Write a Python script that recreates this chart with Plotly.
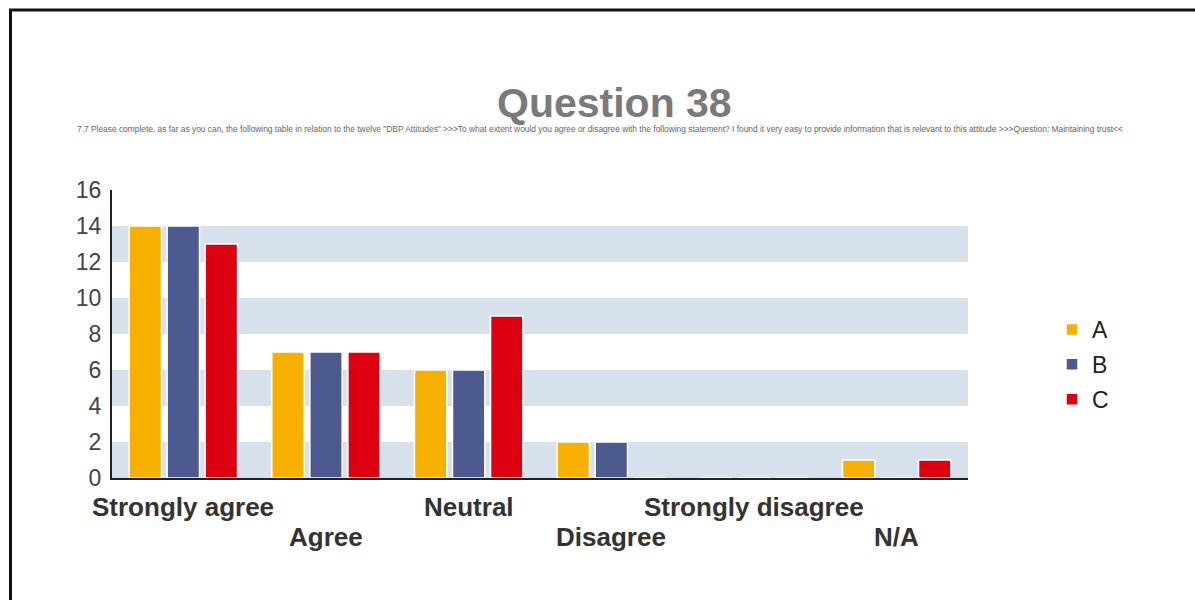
import plotly.graph_objects as go

# Survey responses per answer option, for three respondent groups
categories = ["Strongly agree", "Agree", "Neutral", "Disagree", "Strongly disagree", "N/A"]
series_names = ["A", "B", "C"]
values_a = [14, 7, 6, 2, 0, 1]
values_b = [14, 7, 6, 2, 0, 0]
values_c = [13, 7, 9, 0, 0, 1]
y_ticks = [0, 2, 4, 6, 8, 10, 12, 14, 16]
band_ranges = [(0, 2), (4, 6), (8, 10), (12, 14)]

title_text = "Question 38"
subtitle_text = ("7.7 Please complete, as far as you can, the following table in relation to the twelve "
                 "\"DBP Attitudes\" >>>To what extent would you agree or disagree with the following statement? "
                 "I found it very easy to provide information that is relevant to this attitude >>>Question: "
                 "Maintaining trust<<")

colors = ["#f7b000", "#4d5a8f", "#dc0011"]
FONT = "Liberation Sans, Arial, sans-serif"

W, H = 1195, 600
L, R, T, B = 112, 227, 190, 122
plot_w = W - L - R
plot_h = H - T - B


def px_x(x):
    return (x - L) / plot_w


def px_y(y):
    return (H - B - y) / plot_h


fig = go.Figure()
for name, vals, col in zip(series_names, [values_a, values_b, values_c], colors):
    fig.add_trace(go.Bar(
        x=categories, y=vals, name=name, legendgroup=name,
        marker=dict(color=col, line=dict(color="white", width=1.5)),
    ))

shapes = []
# Alternating horizontal bands behind the bars
for y0, y1 in band_ranges:
    shapes.append(dict(type="rect", xref="paper", yref="y", x0=0, x1=1, y0=y0, y1=y1,
                       fillcolor="#d7e1ec", line=dict(width=0), layer="below"))
# Page frame (top and left edges)
shapes.append(dict(type="line", xref="paper", yref="paper",
                   x0=px_x(9), x1=px_x(W), y0=px_y(10), y1=px_y(10),
                   line=dict(color="#111", width=3)))
shapes.append(dict(type="line", xref="paper", yref="paper",
                   x0=px_x(10.5), x1=px_x(10.5), y0=px_y(9), y1=px_y(H),
                   line=dict(color="#111", width=3)))

annotations = [
    dict(text=f"<b>{title_text}</b>", xref="paper", yref="paper", x=px_x(614), y=px_y(103),
         xanchor="center", yanchor="middle", showarrow=False,
         font=dict(family=FONT, size=41, color="#7a7a7a")),
    dict(text=subtitle_text, xref="paper", yref="paper", x=px_x(600), y=px_y(129),
         xanchor="center", yanchor="middle", showarrow=False,
         font=dict(family=FONT, size=8.4, color="#666")),
]
# Category labels, staggered on two rows
for i, cat in enumerate(categories):
    annotations.append(dict(
        text=f"<b>{cat}</b>", xref="x", yref="y", x=cat, y=0,
        xanchor="center", yanchor="top", showarrow=False,
        yshift=-12 if i % 2 == 0 else -42,
        font=dict(family=FONT, size=26, color="#333"),
    ))

fig.update_layout(
    width=W, height=H,
    margin=dict(l=L, r=R, t=T, b=B, pad=0),
    paper_bgcolor="white", plot_bgcolor="white",
    barmode="group", bargap=0.2, bargroupgap=0.15,
    shapes=shapes, annotations=annotations,
    font=dict(family=FONT),
    legend=dict(x=px_x(1052), y=px_y(308), xanchor="left", yanchor="top",
                font=dict(family=FONT, size=23, color="#222"),
                traceorder="grouped", tracegroupgap=2, bgcolor="rgba(0,0,0,0)"),
    xaxis=dict(range=[-0.5, len(categories) - 0.5], autorange=False,
               showticklabels=False, showline=True, linecolor="#222", linewidth=2,
               ticks="", showgrid=False, zeroline=False, fixedrange=True),
    yaxis=dict(range=[0, 16], autorange=False, tickvals=y_ticks,
               ticktext=[str(v) for v in y_ticks],
               showline=True, linecolor="#222", linewidth=2, ticks="", showgrid=False,
               zeroline=False, tickfont=dict(family=FONT, size=23, color="#444"),
               ticklabelstandoff=4),
)

fig.write_html("out.html")
